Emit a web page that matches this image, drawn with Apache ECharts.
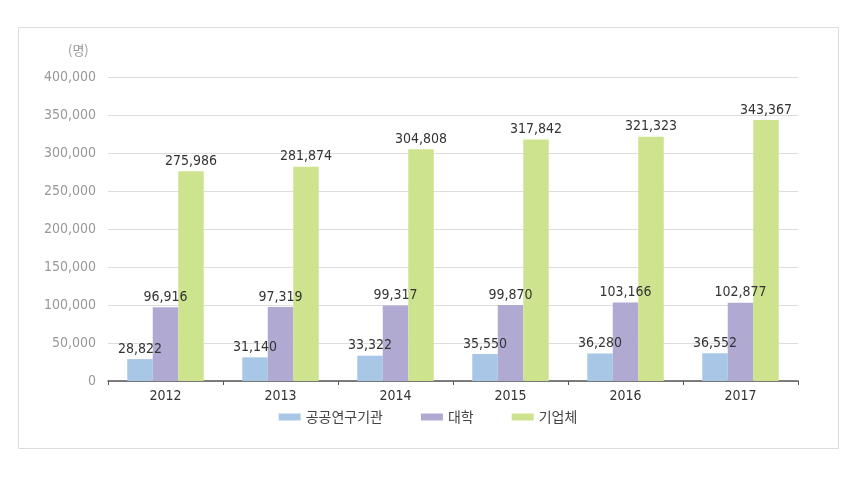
<!DOCTYPE html>
<html><head><meta charset="utf-8">
<script src="https://cdn.jsdelivr.net/npm/echarts@6/dist/echarts.min.js"></script>
<style>html,body{margin:0;padding:0;background:#fff}#c{width:856px;height:477px}</style>
</head><body><div id="c"></div>
<script>
const categories = ['2012','2013','2014','2015','2016','2017'];
const seriesNames = ['공공연구기관','대학','기업체'];
const publicInst = [28822,31140,33322,35550,36280,36552];
const university = [96916,97319,99317,99870,103166,102877];
const company = [275986,281874,304808,317842,321323,343367];
const yTicks = [0,50000,100000,150000,200000,250000,300000,350000,400000];
const colors = ['#a8c7e7','#b0aad3','#cee38e'];
const FONT = '"DejaVu Sans Condensed", "Noto Sans CJK KR", sans-serif';
const chart = echarts.init(document.getElementById('c'));
const fmt = v => v.toLocaleString('en-US');
const mk = (name, data, i) => ({
  name, type:'bar', data, barWidth: 25.5, barGap: '0%',
  itemStyle:{color:colors[i]},
  label:{show:true, position:'top', distance:3, color:'#333', fontSize:14, fontFamily:FONT,
    formatter:p=>fmt(p.value)}
});
chart.setOption({
  animation:false,
  graphic:[{type:'rect', shape:{x:18.5,y:27.5,width:820,height:421}, style:{fill:'none', stroke:'#ddd', lineWidth:1}, silent:true},
           {type:'text', left:68, top:44, style:{text:'(명)', fill:'#999', font:'13px "Noto Sans CJK KR"'}}],
  grid:{left:108, right:58, top:77, bottom:96},
  legend:{bottom:48, left:'center', itemWidth:22, itemHeight:7, itemGap:38, icon:'rect',
    textStyle:{color:'#444', fontSize:14, fontFamily:'"Noto Sans CJK KR"'}, data:seriesNames},
  xAxis:{type:'category', data:categories,
    axisLine:{lineStyle:{color:'#555', width:1.5}},
    axisTick:{show:true, length:4, inside:false, lineStyle:{color:'#555'}},
    axisLabel:{color:'#333', fontSize:14, fontFamily:FONT, margin:8}},
  yAxis:{type:'value', min:0, max:400000, interval:50000,
    axisLine:{show:false}, axisTick:{show:false},
    splitLine:{lineStyle:{color:'#ddd'}},
    axisLabel:{color:'#999', fontSize:14, fontFamily:FONT, margin:12, formatter:v=>fmt(v)}},
  series:[mk(seriesNames[0],publicInst,0), mk(seriesNames[1],university,1), mk(seriesNames[2],company,2)]
});
</script></body></html>
